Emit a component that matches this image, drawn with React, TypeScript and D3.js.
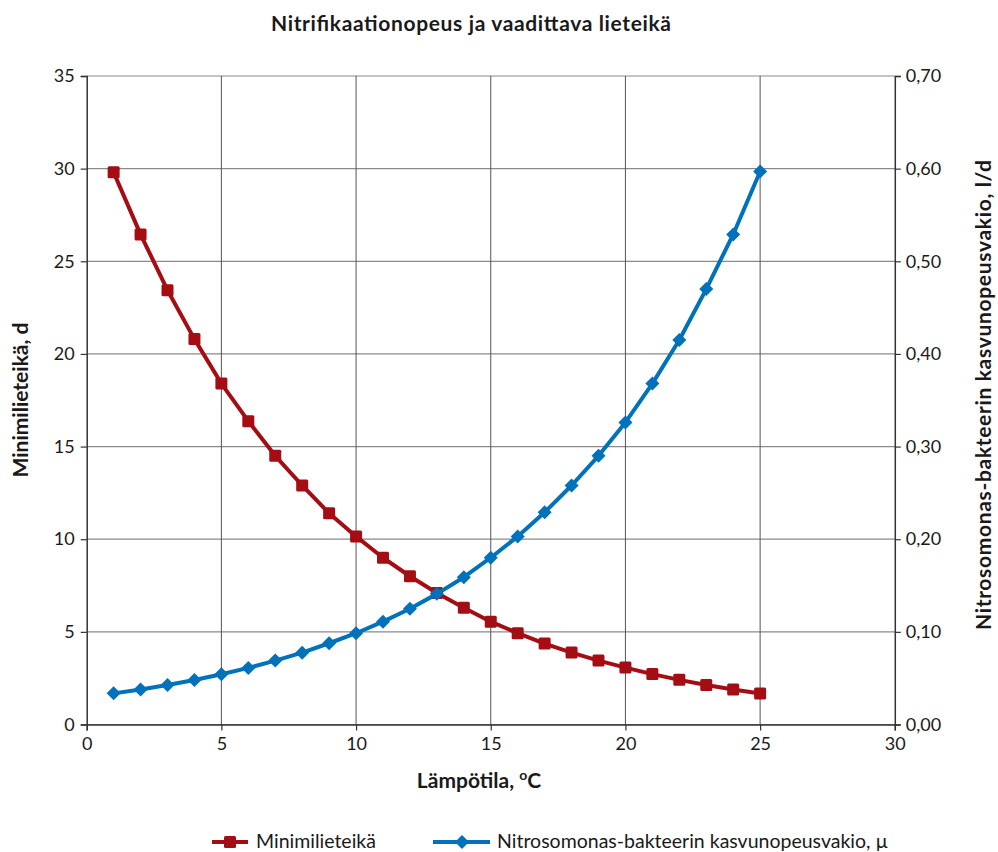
import React, { useEffect, useRef } from "react";
import * as d3 from "d3";

const temps = [1, 2, 3, 4, 5, 6, 7, 8, 9, 10, 11, 12, 13, 14, 15, 16, 17, 18, 19, 20, 21, 22, 23, 24, 25];
const minSludgeAge = [29.8, 26.45, 23.44, 20.8, 18.4, 16.37, 14.5, 12.9, 11.4, 10.15, 9.0, 8.0, 7.1, 6.3, 5.55, 4.93, 4.37, 3.88, 3.45, 3.07, 2.72, 2.41, 2.13, 1.89, 1.67];
const growthRate = [0.0336, 0.0378, 0.0427, 0.0481, 0.0543, 0.0611, 0.069, 0.0775, 0.0877, 0.0985, 0.111, 0.125, 0.141, 0.159, 0.18, 0.203, 0.229, 0.258, 0.29, 0.326, 0.368, 0.415, 0.47, 0.529, 0.597];
const xTicks = [0, 5, 10, 15, 20, 25, 30];
const yLeftTicks = [0, 5, 10, 15, 20, 25, 30, 35];
const yRightTicks = [0, 0.1, 0.2, 0.3, 0.4, 0.5, 0.6, 0.7];

const RED = "#a50d14";
const BLUE = "#0071bb";
const FONT = "Lato, 'Open Sans', sans-serif";

export default function App() {
  const ref = useRef<SVGSVGElement>(null);
  useEffect(() => {
    const svg = d3.select(ref.current);
    svg.selectAll("*").remove();
    const left = 86.7, right = 894.8, top = 76, bottom = 724.5;
    const x = d3.scaleLinear().domain([0, 30]).range([left, right]);
    const yL = d3.scaleLinear().domain([0, 35]).range([bottom, top]);
    const yR = d3.scaleLinear().domain([0, 0.7]).range([bottom, top]);

    svg.append("g").selectAll("line").data(yLeftTicks).join("line")
      .attr("x1", left).attr("x2", right)
      .attr("y1", d => yL(d)).attr("y2", d => yL(d))
      .attr("stroke", "#8a8a8a").attr("stroke-width", 1.2);
    svg.append("g").selectAll("line").data(xTicks.filter(d => d > 0 && d < 30)).join("line")
      .attr("x1", d => x(d)).attr("x2", d => x(d))
      .attr("y1", top).attr("y2", bottom)
      .attr("stroke", "#555").attr("stroke-width", 1);

    const axisColor = "#333";
    const gL = svg.append("g").attr("transform", `translate(${left},0)`)
      .call(d3.axisLeft(yL).tickValues(yLeftTicks).tickSize(6).tickPadding(6).tickFormat(d3.format("d")));
    const gB = svg.append("g").attr("transform", `translate(0,${bottom})`)
      .call(d3.axisBottom(x).tickValues(xTicks).tickSize(6).tickPadding(7).tickFormat(d3.format("d")));
    const gR = svg.append("g").attr("transform", `translate(${right},0)`)
      .call(d3.axisRight(yR).tickValues(yRightTicks).tickSize(6).tickPadding(5)
        .tickFormat((d: any) => d3.format(".2f")(d).replace(".", ",")));
    [gL, gB, gR].forEach(g => {
      g.select(".domain").attr("stroke", axisColor).attr("stroke-width", 1.5);
      g.selectAll(".tick line").attr("stroke", axisColor).attr("stroke-width", 1.2);
      g.selectAll(".tick text").attr("fill", "#1a1a1a").style("font-family", FONT).style("font-size", "18px");
    });

    const lineL = d3.line<number>().x((_, i) => x(temps[i])).y(d => yL(d));
    svg.append("path").datum(minSludgeAge).attr("d", lineL)
      .attr("fill", "none").attr("stroke", RED).attr("stroke-width", 4).attr("stroke-linejoin", "round");
    svg.append("g").selectAll("rect").data(minSludgeAge).join("rect")
      .attr("x", (_, i) => x(temps[i]) - 6).attr("y", d => yL(d) - 6)
      .attr("width", 12).attr("height", 12).attr("rx", 1.5).attr("fill", RED);

    const lineR = d3.line<number>().x((_, i) => x(temps[i])).y(d => yR(d));
    svg.append("path").datum(growthRate).attr("d", lineR)
      .attr("fill", "none").attr("stroke", BLUE).attr("stroke-width", 4).attr("stroke-linejoin", "round");
    const diamond = "M0,-7L7,0L0,7L-7,0Z";
    svg.append("g").selectAll("path").data(growthRate).join("path")
      .attr("transform", (d, i) => `translate(${x(temps[i])},${yR(d)})`)
      .attr("d", diamond).attr("fill", BLUE);

    svg.append("text").attr("x", 471).attr("y", 31).attr("text-anchor", "middle")
      .style("font-family", FONT).style("font-weight", "bold").style("font-size", "21px").attr("fill", "#1a1a1a")
      .attr("textLength", 400).attr("lengthAdjust", "spacing")
      .text("Nitrifikaationopeus ja vaadittava lieteikä");

    const xl = svg.append("text").attr("x", 479).attr("y", 788).attr("text-anchor", "middle")
      .style("font-family", FONT).style("font-weight", "bold").style("font-size", "21px").attr("fill", "#1a1a1a");
    xl.append("tspan").text("Lämpötila, ");
    xl.append("tspan").attr("dy", -8).style("font-size", "14px").text("o");
    xl.append("tspan").attr("dy", 8).text("C");

    svg.append("text").attr("transform", `translate(28,400) rotate(-90)`).attr("text-anchor", "middle")
      .style("font-family", FONT).style("font-weight", "bold").style("font-size", "21px").attr("fill", "#1a1a1a")
      .text("Minimilieteikä, d");
    svg.append("text").attr("transform", `translate(991,395) rotate(-90)`).attr("text-anchor", "middle")
      .style("font-family", FONT).style("font-weight", "bold").style("font-size", "21px").attr("fill", "#1a1a1a")
      .attr("textLength", 470).attr("lengthAdjust", "spacing")
      .text("Nitrosomonas-bakteerin kasvunopeusvakio,  l/d");

    const ly = 842;
    const lg = svg.append("g");
    lg.append("line").attr("x1", 212).attr("x2", 248).attr("y1", ly).attr("y2", ly).attr("stroke", RED).attr("stroke-width", 4);
    lg.append("rect").attr("x", 230 - 6).attr("y", ly - 6).attr("width", 12).attr("height", 12).attr("rx", 1.5).attr("fill", RED);
    lg.append("text").attr("x", 256).attr("y", ly + 6).style("font-family", FONT).style("font-size", "19.5px").attr("fill", "#1a1a1a").text("Minimilieteikä");
    lg.append("line").attr("x1", 433).attr("x2", 490).attr("y1", ly).attr("y2", ly).attr("stroke", BLUE).attr("stroke-width", 4);
    lg.append("path").attr("transform", `translate(462,${ly})`).attr("d", diamond).attr("fill", BLUE);
    lg.append("text").attr("x", 497).attr("y", ly + 6).style("font-family", FONT).style("font-size", "19.5px").attr("fill", "#1a1a1a").text("Nitrosomonas-bakteerin kasvunopeusvakio, µ");
  }, []);
  return (
    <svg ref={ref} width={998} height={852} style={{ position: "absolute", left: 0, top: 0, background: "#fff" }} />
  );
}
